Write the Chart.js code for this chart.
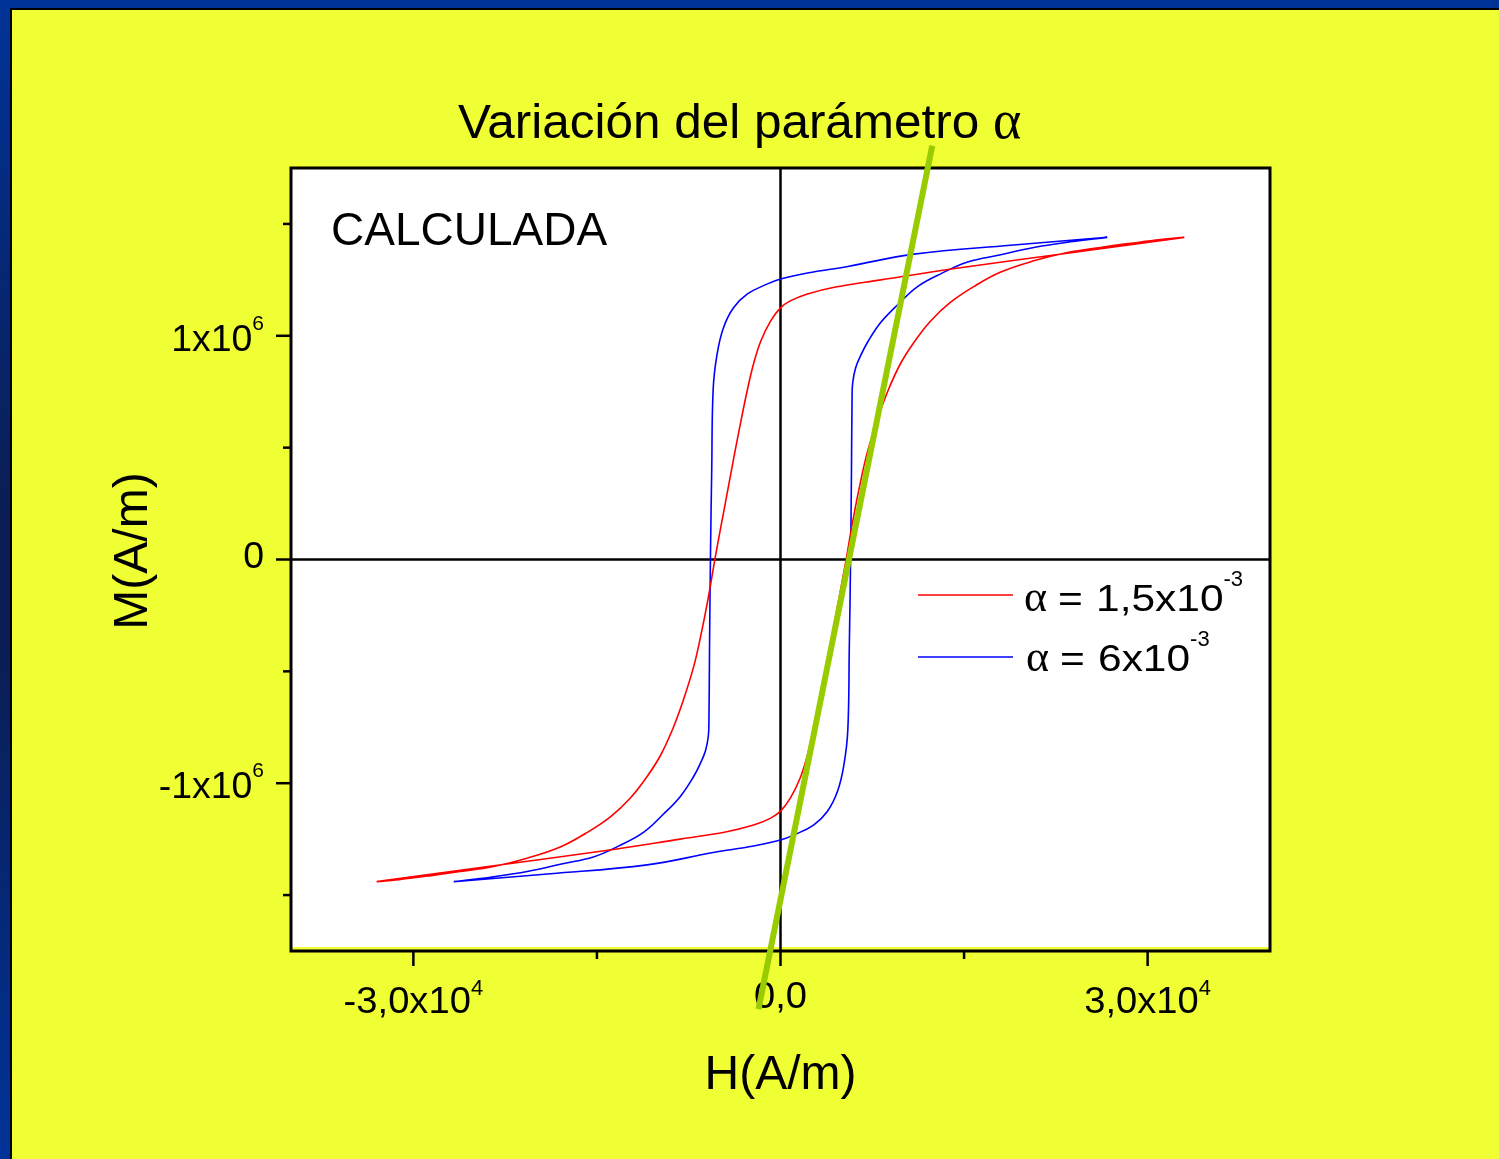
<!DOCTYPE html>
<html>
<head>
<meta charset="utf-8">
<script src="https://cdn.jsdelivr.net/npm/chart.js@4.4.1/dist/chart.umd.min.js"></script>
<style>
  html, body {
    margin: 0; padding: 0; width: 1499px; height: 1159px; overflow: hidden;
    background: linear-gradient(to bottom, #003399 0%, #0b1d52 45%, #0b1d52 55%, #003399 100%);
  }
  #panel {
    position: absolute; left: 10px; top: 8px; right: 0; bottom: 0;
    background: #f0ff33; border-left: 2px solid #000; border-top: 2px solid #000;
  }
  #chart { position: absolute; left: 0; top: 0; }
</style>
</head>
<body>
<div id="panel"></div>
<canvas id="chart" width="1499" height="1159"></canvas>
<script>
// ---- Hysteresis loops, H in A/m, M in A/m ----
// alpha = 1.5e-3 : descending branch (from +Hmax to -Hmax)
const redUpperH = [33000, 24500, 14100, 8200, 4500, 2200, 800, 0, -800, -1600, -2200, -2700, -3230, -3780, -4550, -5300, -5900, -6550, -7100, -7950, -8750, -9800, -10900, -12250, -13900, -15950, -18000, -20700, -23450, -26150, -28850, -31050, -33000];
const redUpperM = [1.44e6, 1.377e6, 1.30e6, 1.25e6, 1.218e6, 1.187e6, 1.156e6, 1.125e6, 1.067e6, 0.978e6, 0.875e6, 0.76e6, 0.62e6, 0.465e6, 0.24e6, 0.02e6, -0.17e6, -0.35e6, -0.48e6, -0.63e6, -0.75e6, -0.875e6, -0.97e6, -1.065e6, -1.15e6, -1.225e6, -1.285e6, -1.335e6, -1.372e6, -1.395e6, -1.415e6, -1.43e6, -1.44e6];
// alpha = 1.5e-3 : ascending branch (from -Hmax to +Hmax)
const redLowerH = [-33000, -24500, -14100, -8200, -4500, -2200, -800, 0, 800, 1600, 2200, 2700, 3230, 3780, 4550, 5300, 5900, 6550, 7100, 7950, 8750, 9800, 10900, 12250, 13900, 15950, 18000, 20700, 23450, 26150, 28850, 31050, 33000];
const redLowerM = [-1.44e6, -1.377e6, -1.30e6, -1.25e6, -1.218e6, -1.187e6, -1.156e6, -1.125e6, -1.067e6, -0.978e6, -0.875e6, -0.76e6, -0.62e6, -0.465e6, -0.24e6, -0.02e6, 0.17e6, 0.35e6, 0.48e6, 0.63e6, 0.75e6, 0.875e6, 0.97e6, 1.065e6, 1.15e6, 1.225e6, 1.285e6, 1.335e6, 1.372e6, 1.395e6, 1.415e6, 1.43e6, 1.44e6];

// alpha = 6e-3 : descending branch
const blueUpperH = [26700, 18800, 10900, 5500, 2200, 0, -1060, -2700, -3840, -4660, -5175, -5500, -5620, -5720, -5800, -5850, -5900, -6130, -6540, -7100, -8200, -9600, -11200, -13200, -15300, -17800, -20700, -23700, -26700];
const blueUpperM = [1.44e6, 1.405e6, 1.365e6, 1.31e6, 1.281e6, 1.254e6, 1.232e6, 1.187e6, 1.125e6, 1.036e6, 0.92e6, 0.763e6, 0.40e6, 0.03e6, -0.40e6, -0.73e6, -0.79e6, -0.855e6, -0.91e6, -0.97e6, -1.06e6, -1.14e6, -1.22e6, -1.28e6, -1.33e6, -1.36e6, -1.395e6, -1.42e6, -1.44e6];
// alpha = 6e-3 : ascending branch
const blueLowerH = [-26700, -18800, -10900, -5500, -2200, 0, 1060, 2700, 3840, 4660, 5175, 5500, 5620, 5720, 5800, 5850, 5900, 6130, 6540, 7100, 8200, 9600, 11200, 13200, 15300, 17800, 20700, 23700, 26700];
const blueLowerM = [-1.44e6, -1.405e6, -1.365e6, -1.31e6, -1.281e6, -1.254e6, -1.232e6, -1.187e6, -1.125e6, -1.036e6, -0.92e6, -0.763e6, -0.40e6, -0.03e6, 0.40e6, 0.73e6, 0.79e6, 0.855e6, 0.91e6, 0.97e6, 1.06e6, 1.14e6, 1.22e6, 1.28e6, 1.33e6, 1.36e6, 1.395e6, 1.42e6, 1.44e6];

// straight guide line through the coercive region
const tangentH = [12400, -1800];
const tangentM = [1.85e6, -2.01e6];

// ---- Axes ----
const xMajorTicks = [-30000, 0, 30000];
const xMinorTicks = [-15000, 15000];
const xTickLabels = [['-3,0x10', '4'], ['0,0', ''], ['3,0x10', '4']];
const yMajorTicks = [-1e6, 0, 1e6];
const yMinorTicks = [-1.5e6, -0.5e6, 0.5e6, 1.5e6];
const yTickLabels = [['-1x10', '6'], ['0', ''], ['1x10', '6']];

const seriesLabels = [['1,5x10', '-3'], ['6x10', '-3']];
const seriesColors = ['#ff0000', '#0000ff'];

const SANS = '"Liberation Sans", Arial, Helvetica, sans-serif';
const SERIF = '"Liberation Serif", "Times New Roman", serif';

function toPoints(hs, ms) { return hs.map((h, i) => ({ x: h, y: ms[i] })); }

// left-aligned text, optionally widened; returns drawn width
function wideText(ctx, text, x, y, font, sx) {
  ctx.font = font;
  const w = ctx.measureText(text).width * sx;
  ctx.save();
  ctx.translate(x, y);
  ctx.scale(sx, 1);
  ctx.textAlign = 'left';
  ctx.textBaseline = 'alphabetic';
  ctx.fillText(text, 0, 0);
  ctx.restore();
  return w;
}

// text with a raised exponent, anchored on x by align
function supText(ctx, base, sup, x, y, size, supSize, rise, align, sx) {
  ctx.font = size + 'px ' + SANS;
  const wb = ctx.measureText(base).width * sx;
  ctx.font = supSize + 'px ' + SANS;
  const ws = sup ? ctx.measureText(sup).width : 0;
  const total = wb + ws;
  const x0 = align === 'right' ? x - total : align === 'center' ? x - total / 2 : x;
  wideText(ctx, base, x0, y, size + 'px ' + SANS, sx);
  if (sup) wideText(ctx, sup, x0 + wb, y - rise, supSize + 'px ' + SANS, 1);
}

const framePlugin = {
  id: 'frameAndText',
  beforeDatasetsDraw(chart) {
    const { ctx, chartArea: a, scales: { x, y } } = chart;
    const seg = (x1, y1, x2, y2) => { ctx.beginPath(); ctx.moveTo(x1, y1); ctx.lineTo(x2, y2); ctx.stroke(); };
    ctx.save();

    // plot background (a thin band of the panel colour shows above the bottom edge)
    ctx.fillStyle = '#ffffff';
    ctx.fillRect(a.left, a.top, a.right - a.left, a.bottom - a.top - 4);

    // zero lines
    ctx.strokeStyle = '#000';
    ctx.lineWidth = 2.5;
    const x0 = x.getPixelForValue(0), y0 = y.getPixelForValue(0);
    seg(x0, a.top, x0, a.bottom);
    seg(a.left, y0, a.right, y0);

    // frame
    ctx.lineWidth = 3;
    ctx.strokeRect(a.left, a.top, a.right - a.left, a.bottom - a.top);

    // tick marks (outside)
    ctx.lineWidth = 2.5;
    xMajorTicks.forEach(v => { const p = x.getPixelForValue(v); seg(p, a.bottom, p, a.bottom + 15); });
    xMinorTicks.forEach(v => { const p = x.getPixelForValue(v); seg(p, a.bottom, p, a.bottom + 8); });
    yMajorTicks.forEach(v => { const p = y.getPixelForValue(v); seg(a.left, p, a.left - 15, p); });
    yMinorTicks.forEach(v => { const p = y.getPixelForValue(v); seg(a.left, p, a.left - 8, p); });

    // tick labels
    ctx.fillStyle = '#000';
    xMajorTicks.forEach((v, i) => {
      const [b, s] = xTickLabels[i];
      const p = x.getPixelForValue(v);
      supText(ctx, b, s, p, a.bottom + (s ? 62 : 57), 36, 22, 18, 'center', 1.06);
    });
    yMajorTicks.forEach((v, i) => {
      const [b, s] = yTickLabels[i];
      const p = y.getPixelForValue(v);
      supText(ctx, b, s, a.left - 27, p + (s ? 15 : 8), 36, 21, 21, 'right', 1.04);
    });

    // title
    const tw = wideText(ctx, 'Variación del parámetro ', 458, 138, '48px ' + SANS, 1.03);
    wideText(ctx, 'α', 458 + tw, 138, '54px ' + SERIF, 1);

    // inner label
    wideText(ctx, 'CALCULADA', a.left + 40, 245, '46px ' + SANS, 1);

    // axis titles
    ctx.font = '48px ' + SANS;
    ctx.textAlign = 'center';
    ctx.textBaseline = 'alphabetic';
    ctx.fillText('H(A/m)', x0, 1089);
    ctx.save();
    ctx.translate(147, 551);
    ctx.rotate(-Math.PI / 2);
    ctx.fillText('M(A/m)', 0, 0);
    ctx.restore();

    // legend
    const rows = [[595, 611], [657, 671]];
    seriesLabels.forEach((lab, i) => {
      const [ly, by] = rows[i];
      ctx.strokeStyle = seriesColors[i];
      ctx.lineWidth = 1.6;
      seg(918, ly, 1013, ly);
      ctx.fillStyle = '#000';
      const dx = i ? 2 : 0;
      wideText(ctx, 'α', 1024 + dx, by, '44px ' + SERIF, 1);
      wideText(ctx, '=', 1058 + dx, by, '36px ' + SANS, 1.18);
      supText(ctx, lab[0], lab[1], 1096 + dx, by, 36, 22, 25, 'left', 1.18);
    });

    ctx.restore();
  }
};

const lineStyle = { showLine: true, pointRadius: 0, fill: false, tension: 0.4, borderWidth: 1.6 };

new Chart(document.getElementById('chart').getContext('2d'), {
  type: 'scatter',
  data: {
    datasets: [
      { label: 'guide', data: toPoints(tangentH, tangentM), borderColor: '#99cc00', borderWidth: 6,
        showLine: true, pointRadius: 0, tension: 0, clip: false, order: -1, borderCapStyle: 'butt' },
      Object.assign({ label: 'α = 1,5x10-3',
        data: toPoints(redUpperH.concat(redLowerH), redUpperM.concat(redLowerM)),
        borderColor: seriesColors[0] }, lineStyle),
      Object.assign({ label: 'α = 6x10-3',
        data: toPoints(blueUpperH.concat(blueLowerH), blueUpperM.concat(blueLowerM)),
        borderColor: seriesColors[1] }, lineStyle)
    ]
  },
  options: {
    responsive: false,
    animation: false,
    devicePixelRatio: 1,
    events: [],
    layout: { padding: { left: 291, top: 168, right: 229, bottom: 208 } },
    scales: {
      x: { type: 'linear', min: -40000, max: 40000, display: false },
      y: { type: 'linear', min: -1750000, max: 1750000, display: false }
    },
    plugins: { legend: { display: false }, tooltip: { enabled: false }, title: { display: false } }
  },
  plugins: [framePlugin]
});
</script>
</body>
</html>
